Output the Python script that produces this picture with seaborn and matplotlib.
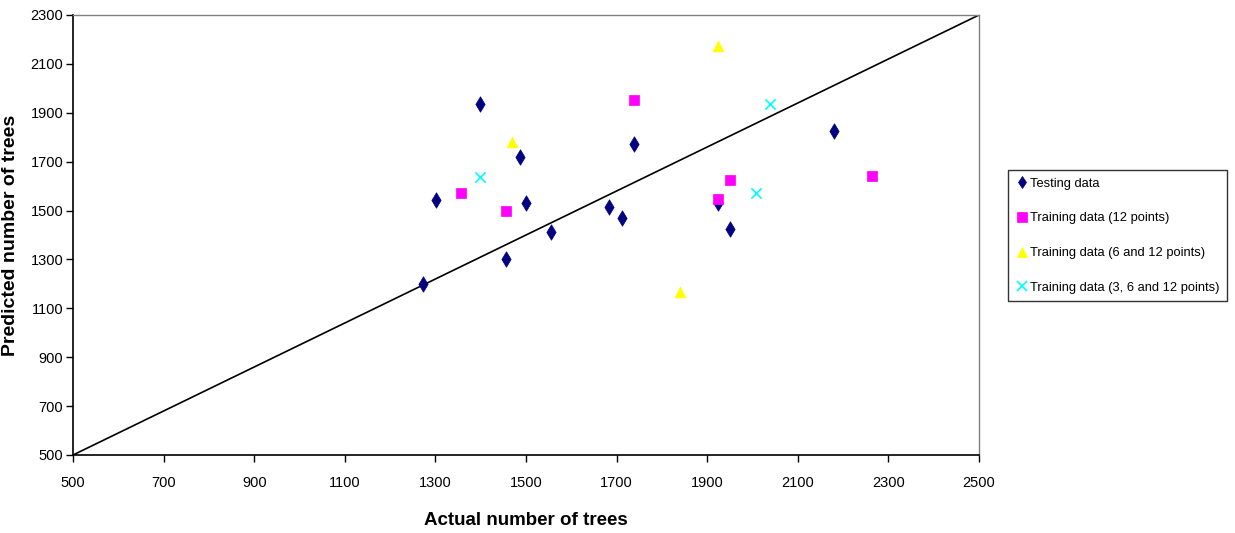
import matplotlib
matplotlib.use("Agg")
import matplotlib.pyplot as plt
import seaborn as sns
import pandas as pd

# Testing data
test_actual = [1273, 1301, 1398, 1486, 1500, 1456, 1556, 1684, 1712, 1738, 1923, 1950, 2180]
test_pred = [1200, 1543, 1936, 1720, 1530, 1302, 1412, 1516, 1468, 1771, 1530, 1426, 1827]

# Training data (12 points)
t12_actual = [1357, 1455, 1738, 1950, 1923, 2263]
t12_pred = [1572, 1497, 1951, 1626, 1546, 1641]

# Training data (6 and 12 points)
t6_actual = [1469, 1923, 1839]
t6_pred = [1781, 2173, 1168]

# Training data (3, 6 and 12 points)
t3_actual = [1398, 2038, 2007]
t3_pred = [1639, 1936, 1572]

# Reference diagonal
line_x = [500, 2500]
line_y = [500, 2300]

x_ticks = list(range(500, 2501, 200))
y_ticks = list(range(500, 2301, 200))

sns.set_theme(style="white")
plt.rcParams["font.family"] = ["Liberation Sans", "DejaVu Sans"]
plt.rcParams["text.color"] = "black"
plt.rcParams["axes.labelcolor"] = "black"
plt.rcParams["xtick.color"] = "black"
plt.rcParams["ytick.color"] = "black"

fig = plt.figure(figsize=(12.35, 5.33), dpi=100)
ax = fig.add_axes([73 / 1235, 78 / 533, (979 - 73) / 1235, (455 - 15) / 533])

sns.lineplot(x=line_x, y=line_y, ax=ax, color="black", linewidth=1.2, zorder=1)

series = [
    ("Testing data", test_actual, test_pred, "d", "#000080", 62),
    ("Training data (12 points)", t12_actual, t12_pred, "s", "#FF00FF", 55),
    ("Training data (6 and 12 points)", t6_actual, t6_pred, "^", "#FFFF00", 60),
    ("Training data (3, 6 and 12 points)", t3_actual, t3_pred, "x", "#00FFFF", 55),
]
handles = []
for name, xs, ys, mk, col, size in series:
    df = pd.DataFrame({"actual": xs, "pred": ys})
    kw = dict(linewidth=1.2) if mk == "x" else dict(edgecolor=col, linewidth=0.5)
    sns.scatterplot(data=df, x="actual", y="pred", ax=ax, marker=mk, color=col,
                    s=size, zorder=3, **kw)
    handles.append(plt.Line2D([], [], linestyle="none", marker=mk, color=col,
                              markerfacecolor=col, markersize=6.5,
                              markeredgewidth=1.2 if mk == "x" else 0.5,
                              label=name))

ax.set_xlim(500, 2500)
ax.set_ylim(500, 2300)
ax.set_xticks(x_ticks)
ax.set_yticks(y_ticks)
ax.tick_params(axis="both", which="both", direction="out", length=5, width=1,
               color="black", labelcolor="black", labelsize=10.5, bottom=True, left=True)
ax.tick_params(axis="x", pad=10)
ax.tick_params(axis="y", pad=2)
for side in ["left", "bottom"]:
    ax.spines[side].set_color("black")
    ax.spines[side].set_linewidth(1.2)
for side in ["top", "right"]:
    ax.spines[side].set_color("#808080")
    ax.spines[side].set_linewidth(1.0)
ax.grid(False)

ax.set_xlabel("Actual number of trees", fontsize=13.5, fontweight="bold", labelpad=16)
ax.set_ylabel("Predicted number of trees", fontsize=14, fontweight="bold", labelpad=8)

leg = fig.legend(handles=handles, loc="upper left", bbox_to_anchor=(1008 / 1235, 1 - 170 / 533),
                 frameon=True, fancybox=False, edgecolor="black", fontsize=9.3,
                 handletextpad=0.1, handlelength=1.0, labelspacing=1.75, borderpad=0.6,
                 borderaxespad=0)
leg.get_frame().set_linewidth(1.0)

fig.savefig("out.png", dpi=100, facecolor="white")
